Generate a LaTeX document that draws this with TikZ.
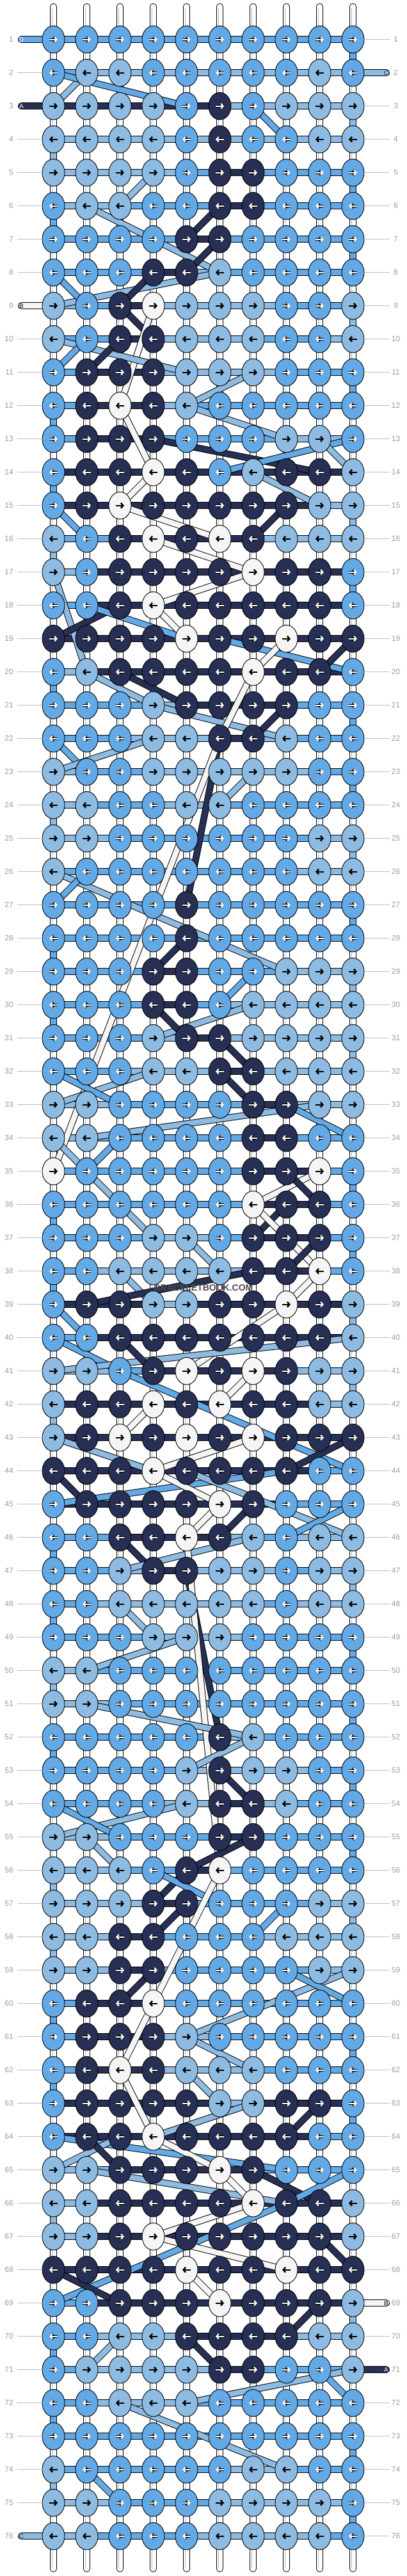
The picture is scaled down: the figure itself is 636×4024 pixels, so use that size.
\documentclass[tikz,border=0pt]{standalone}
\usepackage{fontspec}
\setmainfont{Liberation Sans}
\usetikzlibrary{shapes.geometric,arrows.meta}

\definecolor{strA}{HTML}{272F54}
\definecolor{strB}{HTML}{F5F5F5}
\definecolor{strC}{HTML}{8EBBE2}
\definecolor{strD}{HTML}{63A9E6}
\definecolor{numgray}{HTML}{9A9A9A}
\definecolor{linegray}{HTML}{BDBDBD}

\pgfdeclarelayer{vstr}
\pgfdeclarelayer{hstr}
\pgfdeclarelayer{dstr}
\pgfsetlayers{vstr,hstr,dstr,main}

\newcount\nAcnt
\newcount\colno
\def\strA{A}
\def\strB{B}
\def\strD{D}
\def\gobbleone#1{}

% read one row of knot colours
\def\setoneknot#1#2{%
  \global\advance\colno by 1
  \expandafter\xdef\csname kc-#1-\the\colno\endcsname{#2}%
  \if A#2\global\advance\nAcnt by 1 \fi}
\def\readknots#1#2{\ifx\relax#2\expandafter\gobbleone\else\setoneknot{#1}{#2}\expandafter\readknots\fi{#1}}
\def\knotrow#1#2{%
  \global\colno=0 \global\nAcnt=0
  \readknots{#1}#2\relax
  \expandafter\xdef\csname na-#1\endcsname{\the\nAcnt}}

% colour of the string between two knots of a row
\newcommand\pickseg[2]{%
  \edef\sa{\csname kc-#1-#2\endcsname}%
  \pgfmathtruncatemacro\cn{#2+1}%
  \edef\sb{\csname kc-#1-\cn\endcsname}%
  \edef\nar{\csname na-#1\endcsname}%
  \ifcsname seg-#1-#2\endcsname
    \edef\segcol{\csname seg-#1-#2\endcsname}%
  \else
    \ifx\sa\sb \let\segcol\sa
    \else\ifx\sa\strB \let\segcol\sb
    \else\ifx\sb\strB \let\segcol\sa
    \else\ifx\sa\strA
      \ifnum\nar>4 \let\segcol\strA\else\let\segcol\sb\fi
    \else\ifx\sb\strA
      \ifnum\nar>4 \let\segcol\strA\else\let\segcol\sa\fi
    \else
      \ifodd#1\relax \let\segcol\sa\else\let\segcol\sb\fi
    \fi\fi\fi\fi\fi
  \fi}

% knot colours, one line per row
\knotrow{1}{DDDDDDDDDD}
\knotrow{2}{DCCDDDDDCD}
\knotrow{3}{CCCCDADCCC}
\knotrow{4}{CCCCDADDCC}
\knotrow{5}{CCCCDAADDD}
\knotrow{6}{DCCDDAADDD}
\knotrow{7}{DDDDAADDDD}
\knotrow{8}{DDDAACDDDD}
\knotrow{9}{CDABCCCDDC}
\knotrow{10}{CDAACCCDDC}
\knotrow{11}{DAAACCCDDD}
\knotrow{12}{DABACDDDDD}
\knotrow{13}{DAAADDDCCD}
\knotrow{14}{DAABADCAAC}
\knotrow{15}{DABAAAAACC}
\knotrow{16}{CDABABACCC}
\knotrow{17}{CDAAAABAAD}
\knotrow{18}{DDABAAAAAD}
\knotrow{19}{AAAABAABAA}
\knotrow{20}{DCAAAABAAD}
\knotrow{21}{DDDCAAAADD}
\knotrow{22}{DDDCCAACDD}
\knotrow{23}{CDDCCCCCDD}
\knotrow{24}{CCDDCCDDDD}
\knotrow{25}{CCDDDDDDCC}
\knotrow{26}{CDDDDDDDCC}
\knotrow{27}{DDDDADDDDD}
\knotrow{28}{DDDDADDDDD}
\knotrow{29}{DDDAADDCCC}
\knotrow{30}{DDDAADCCCC}
\knotrow{31}{DDDCAACCCC}
\knotrow{32}{DDDCCAACCC}
\knotrow{33}{CCDDDDAACC}
\knotrow{34}{CCDDDDAADD}
\knotrow{35}{BDDDDDAABD}
\knotrow{36}{DDDDDDBAAD}
\knotrow{37}{DDDCCDAAAD}
\knotrow{38}{DDCCCCAABD}
\knotrow{39}{DAACCAABAC}
\knotrow{40}{DDAAAAAAAC}
\knotrow{41}{CCDABABACC}
\knotrow{42}{CAABABAACC}
\knotrow{43}{CABABABAAA}
\knotrow{44}{AAABAAAADD}
\knotrow{45}{DAAAABADDD}
\knotrow{46}{DDAABACDCC}
\knotrow{47}{DDCAACCDCC}
\knotrow{48}{DDCCCCCDCC}
\knotrow{49}{DDDCCCDDDD}
\knotrow{50}{CCDDDDDDDD}
\knotrow{51}{CCDDDDDDDD}
\knotrow{52}{DDDDDACDDD}
\knotrow{53}{DDDDCACCDD}
\knotrow{54}{DDDDCAACDD}
\knotrow{55}{CCDDDAADDD}
\knotrow{56}{CCCDABDDDD}
\knotrow{57}{CCCAADDDCC}
\knotrow{58}{CCAADDDCCC}
\knotrow{59}{CCAADDDDCC}
\knotrow{60}{DAABDDDDDD}
\knotrow{61}{DAAACDDDDD}
\knotrow{62}{DABACCCDDD}
\knotrow{63}{DAAAACCAAD}
\knotrow{64}{DAABAAAADD}
\knotrow{65}{CCAAABADDD}
\knotrow{66}{CCAAAABAAC}
\knotrow{67}{CCABAAAAAC}
\knotrow{68}{AAAABAABAA}
\knotrow{69}{DDAAABAAAC}
\knotrow{70}{DDCCAAAACC}
\knotrow{71}{DCCCCAADDC}
\knotrow{72}{DDCCCDDDDD}
\knotrow{73}{DDDDDDDDDD}
\knotrow{74}{CDDDDDCCDD}
\knotrow{75}{CCDDDCCCCD}
\knotrow{76}{CCDDDCCCCD}

\begin{document}
\begin{tikzpicture}[x=1pt,y=-1pt,
    knot/.style={ellipse, draw=black, line width=0.9pt, minimum width=35pt, minimum height=42.5pt, inner sep=0pt},
    arblack/.style={black, line width=2.4pt, -{Straight Barb[length=3.5pt,width=8pt]}},
    arwhiteout/.style={black, line width=4.2pt, -{Straight Barb[length=3.5pt,width=8pt]}},
    arwhite/.style={white, line width=2.2pt, -{Straight Barb[length=3.5pt,width=8pt]}},
    rowno/.style={text=numgray, font=\fontsize{12}{12}\selectfont, inner sep=0pt},
    rowline/.style={draw=linegray, line width=0.8pt},
    endlabel/.style={font=\fontsize{10}{10}\selectfont, inner sep=0pt}]

    \useasboundingbox (0,0) rectangle (636,4024);

    % knots
    \foreach \r in {1,...,76} {
        \foreach \c in {1,...,10} {
            \edef\kk{\csname kc-\r-\c\endcsname}
            \node[knot, fill=str\kk] (k-\r-\c) at ({83.5+52*(\c-1)},{61.7+52*(\r-1)}) {};
            \ifodd\r\relax \def\ax{-6.5pt}\def\bx{6.5pt}\else\def\ax{6.5pt}\def\bx{-6.5pt}\fi
            \ifx\kk\strA \def\wht{1}\else\ifx\kk\strD \def\wht{1}\else\def\wht{0}\fi\fi
            \ifnum\wht=1
                \draw[arwhiteout] ([xshift=\ax]k-\r-\c.center) -- ([xshift=\bx]k-\r-\c.center);
                \draw[arwhite] ([xshift=\ax]k-\r-\c.center) -- ([xshift=\bx]k-\r-\c.center);
            \else
                \draw[arblack] ([xshift=\ax]k-\r-\c.center) -- ([xshift=\bx]k-\r-\c.center);
            \fi
        }
    }

    \foreach \c in {1,...,10} {
        \coordinate (top-\c) at ({83.5+52*(\c-1)},10.5);
        \coordinate (bot-\c) at ({83.5+52*(\c-1)},4012.5);
    }
    \foreach \r in {1,3,9,76} {\coordinate (in-\r) at (33.5,{61.7+52*(\r-1)});}
    \foreach \r in {2,69,71} {\coordinate (out-\r) at (603.5,{61.7+52*(\r-1)});}

    % vertical strings
    \begin{pgfonlayer}{vstr}
        \foreach \c in {1,...,10} {
            \draw[line width=11pt, line cap=round] (top-\c) -- (bot-\c);
            \draw[line width=9pt, line cap=round, white] (top-\c) -- (bot-\c);
            \draw[line width=0.5pt, gray!55, double=white, double distance=4pt] ([yshift=-2pt]top-\c) -- ([yshift=2pt]bot-\c);
        }
        % turns at the edges
        \foreach \r in {1,...,75} {
            \pgfmathtruncatemacro\rn{\r+1}
            \pgfmathtruncatemacro\ce{mod(\r,2)==1 ? 10 : 1}
            \edef\ua{\csname kc-\r-\ce\endcsname}
            \edef\ub{\csname kc-\rn-\ce\endcsname}
            \ifx\ua\ub
                \draw[line width=11pt] (k-\r-\ce.center) -- (k-\rn-\ce.center);
                \draw[line width=9pt, color=str\ua] (k-\r-\ce.center) -- (k-\rn-\ce.center);
            \fi
        }
    \end{pgfonlayer}

    % carried strings
    \foreach \c in {2,...,9} {\expandafter\xdef\csname seg-2-\c\endcsname{C}}
    \expandafter\xdef\csname seg-2-1\endcsname{D}
    \foreach \c in {1,...,5} {\expandafter\xdef\csname seg-3-\c\endcsname{A}}
    \foreach \c in {6,...,9} {\expandafter\xdef\csname seg-3-\c\endcsname{C}}
    \foreach \c in {1,...,9} {\expandafter\xdef\csname seg-4-\c\endcsname{C}}
    \foreach \c in {5,...,8} {\expandafter\xdef\csname seg-14-\c\endcsname{A}}

    % horizontal strings
    \begin{pgfonlayer}{hstr}
        \foreach \r in {1,...,76} {
            \foreach \c in {1,...,9} {
                \pickseg{\r}{\c}
                \pgfmathtruncatemacro\cn{\c+1}
                \draw[line width=11pt] (k-\r-\c.center) -- (k-\r-\cn.center);
                \draw[line width=9pt, color=str\segcol] (k-\r-\c.center) -- (k-\r-\cn.center);
            }
        }
        % string ends
        \foreach \r/\ec in {1/D, 3/A, 9/B, 76/C} {
            \draw[line width=11pt, line cap=round] (in-\r) -- (k-\r-1.center);
            \draw[line width=9pt, line cap=round, color=str\ec] (in-\r) -- (k-\r-1.center);
        }
        \foreach \r/\ec in {2/C, 69/B, 71/A} {
            \draw[line width=11pt, line cap=round] (out-\r) -- (k-\r-10.center);
            \draw[line width=9pt, line cap=round, color=str\ec] (out-\r) -- (k-\r-10.center);
        }
    \end{pgfonlayer}

    % end letters
    \foreach \r/\ec/\tc in {1/D/white, 3/A/white, 9/B/black, 76/C/strA} {
        \node[endlabel, text=\tc] (lb-\r) at (in-\r) {\ec};
    }
    \foreach \r/\ec/\tc in {2/C/strA, 69/B/black, 71/A/white} {
        \node[endlabel, text=\tc] (rb-\r) at (out-\r) {\ec};
    }

    % strings jumping between rows
    \begin{pgfonlayer}{dstr}
    \foreach \ra/\ca/\rb/\cb/\strcol in {
        2/2/3/1/C, 2/1/3/5/D, 3/7/4/8/D, 5/4/6/3/C, 6/2/8/6/C, 6/6/7/5/A,
        7/6/8/5/A, 8/6/9/1/C, 8/1/9/2/D, 8/4/9/3/A, 9/3/10/4/A, 9/4/12/3/B,
        10/1/11/5/C, 10/2/11/1/D, 10/3/11/2/A, 11/7/12/5/C, 12/3/14/4/B,
        12/5/13/8/C, 13/4/14/9/A, 14/6/13/10/D, 13/9/14/10/C, 14/4/15/3/B,
        14/7/15/9/C, 15/1/16/2/D, 15/3/16/6/B, 15/8/16/7/A, 16/4/17/7/B,
        17/1/20/2/C, 17/7/18/4/B, 18/3/19/1/A, 18/2/19/5/D, 18/4/19/5/B,
        19/6/20/10/D, 19/8/20/7/B, 19/10/20/9/A, 20/2/21/4/C, 20/3/21/5/A,
        21/4/22/8/C, 20/7/22/6/B, 21/8/22/7/A, 22/1/23/2/D, 22/4/23/1/C,
        22/6/27/5/A, 22/6/35/1/B, 23/7/24/6/C, 26/1/29/8/C, 26/2/27/1/D,
        28/5/29/4/A, 29/7/30/6/D, 30/7/31/4/C, 30/4/31/5/A, 31/6/32/7/A,
        32/6/33/7/A, 32/4/33/1/C, 32/1/33/3/D, 33/9/34/2/C, 33/8/34/10/D,
        34/1/35/2/C, 34/3/35/2/D, 35/2/36/3/C, 35/9/36/7/B, 35/8/36/9/A,
        36/8/37/7/A, 36/7/38/9/B, 36/3/37/4/C, 37/9/38/8/A, 37/5/38/6/C,
        38/9/39/8/B, 38/3/39/4/C, 38/7/39/2/A, 39/1/40/2/D, 39/8/41/5/B,
        40/1/41/3/D, 40/10/41/1/C, 40/3/41/4/A, 41/3/44/10/D, 41/7/42/6/B,
        42/4/43/3/B, 43/1/44/4/C, 43/10/44/8/A, 43/7/44/4/B, 44/8/45/1/D,
        44/1/45/2/A, 44/4/45/6/B, 44/5/46/10/C, 46/8/45/10/D, 45/6/46/5/B,
        45/7/46/6/A, 46/3/47/4/A, 46/7/47/3/C, 47/5/52/6/A, 46/5/56/6/B,
        48/3/49/4/C, 49/5/50/2/C, 51/2/52/7/C, 53/5/52/7/C, 53/6/54/7/A,
        54/5/55/1/C, 54/1/55/3/D, 55/7/56/5/A, 55/2/56/3/C, 56/5/57/4/A,
        56/4/57/6/D, 56/6/60/4/B, 57/5/58/4/A, 57/8/58/7/D, 59/4/60/3/A,
        60/4/62/3/B, 59/10/61/5/C, 59/8/60/10/D, 61/5/62/7/C, 62/5/63/6/C,
        62/3/64/4/B, 63/9/64/8/A, 63/7/64/4/C, 64/1/65/8/D, 64/3/65/1/C,
        64/2/65/3/A, 64/4/65/6/B, 65/2/66/8/C, 65/6/66/7/B, 65/7/66/9/A,
        65/10/66/8/D, 66/7/67/4/B, 66/8/69/1/D, 67/4/68/8/B, 67/9/68/10/A,
        68/1/69/3/A, 68/5/69/6/B, 69/9/70/8/A, 70/3/71/2/C, 70/5/71/6/A,
        71/10/72/5/C, 71/9/72/10/D, 72/3/74/8/C, 74/2/75/3/D} {
        \draw[line width=10.5pt] (k-\ra-\ca.center) -- (k-\rb-\cb.center);
        \draw[line width=8.5pt, color=str\strcol] (k-\ra-\ca.center) -- (k-\rb-\cb.center);
    }
    \end{pgfonlayer}

    % row numbers
    \foreach \r in {1,...,76} {
        \node[rowno, anchor=east] (nl-\r) at (21,{61.7+52*(\r-1)}) {\r};
        \node[rowno] (nr-\r) at (618.5,{61.7+52*(\r-1)}) {\r};
        \coordinate (le-\r) at (27,{61.7+52*(\r-1)});
        \coordinate (re-\r) at (609,{61.7+52*(\r-1)});
        \pgfmathtruncatemacro\hasl{(\r==1 || \r==3 || \r==9 || \r==76) ? 0 : 1}
        \pgfmathtruncatemacro\hasr{(\r==2 || \r==69 || \r==71) ? 0 : 1}
        \ifnum\hasl=1 \draw[rowline] (le-\r) -- (k-\r-1.west); \fi
        \ifnum\hasr=1 \draw[rowline] (k-\r-10.east) -- (re-\r); \fi
    }

    % watermark
    \node[font=\fontsize{14}{14}\selectfont\bfseries, text=black!70] (mark) at (318,2012) {BRACELETBOOK.COM};
\end{tikzpicture}
\end{document}
